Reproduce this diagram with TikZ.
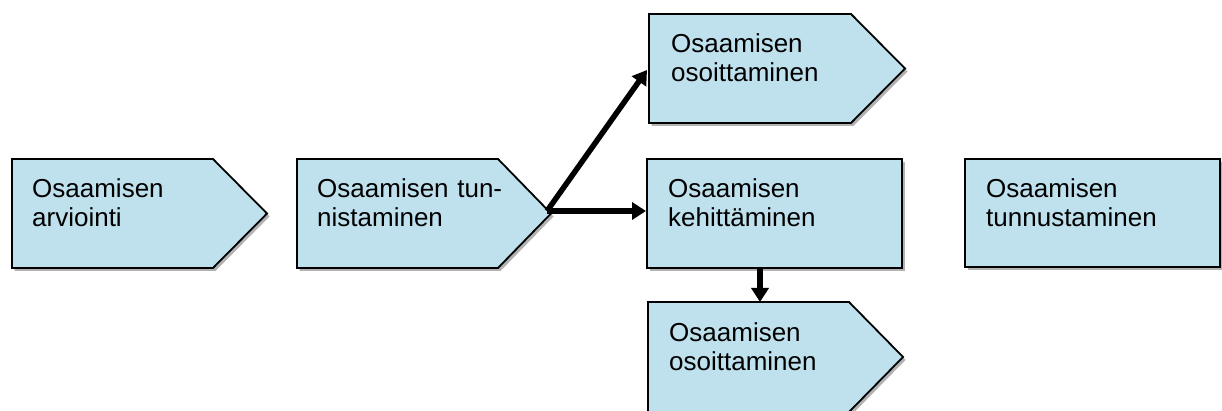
\documentclass[tikz,border=0pt]{standalone}
\usepackage{fontspec}
\setmainfont{Liberation Sans}
\usetikzlibrary{shadows,arrows.meta}
\definecolor{boxblue}{RGB}{190,225,237}
\tikzset{
  x=1pt,y=-1pt,
  boxshape/.style={draw=black,line width=1.8pt,fill=boxblue,line join=miter,
    drop shadow={shadow xshift=2.5pt,shadow yshift=-3pt,fill=black,opacity=0.3}},
  boxtext/.style={anchor=base west,inner sep=0pt,align=left,text width=230pt,
    font=\fontsize{26}{29}\selectfont},
  conn/.style={line width=5.5pt,-{Triangle[length=14pt,width=17pt]}}
}
\begin{document}
\begin{tikzpicture}
\useasboundingbox (0,0) rectangle (1222,411);
% box 1 (pentagon)
\path[boxshape] (12,159) -- (213,159) -- (267,213.5) -- (213,268) -- (12,268) -- cycle;
\coordinate (b1tip) at (267,213.5);
\node[boxtext] (t1) at (32,198) {Osaamisen\\arviointi};
% box 2 (pentagon)
\path[boxshape] (297,159) -- (498,159) -- (551,213.5) -- (498,268) -- (297,268) -- cycle;
\coordinate (b2tip) at (547,211);
\node[boxtext] (t2) at (317,198) {Osaamisen tun-\\nistaminen};
% box 3 (pentagon, top)
\path[boxshape] (649,14) -- (851,14) -- (905,68.5) -- (851,123) -- (649,123) -- cycle;
\coordinate (b3in) at (647,70);
\node[boxtext] (t3) at (671,53) {Osaamisen\\osoittaminen};
% box 4 (rectangle)
\path[boxshape] (647,159) rectangle (902,268);
\coordinate (b4in) at (646,211);
\coordinate (b4out) at (760,268);
\node[boxtext] (t4) at (668,198) {Osaamisen\\kehitt\"aminen};
% box 5 (pentagon, bottom)
\path[boxshape] (648,302) -- (849,302) -- (903,357) -- (849,412) -- (648,412) -- cycle;
\coordinate (b5in) at (760,302);
\node[boxtext] (t5) at (669,341) {Osaamisen\\osoittaminen};
% box 6 (rectangle)
\path[boxshape] (965,159) rectangle (1220,267);
\node[boxtext] (t6) at (986,198) {Osaamisen\\tunnustaminen};
% connectors
\draw[conn] (b2tip) -- (b3in);
\draw[conn] (b2tip) -- (b4in);
\draw[conn] (b4out) -- (b5in);
\end{tikzpicture}
\end{document}
